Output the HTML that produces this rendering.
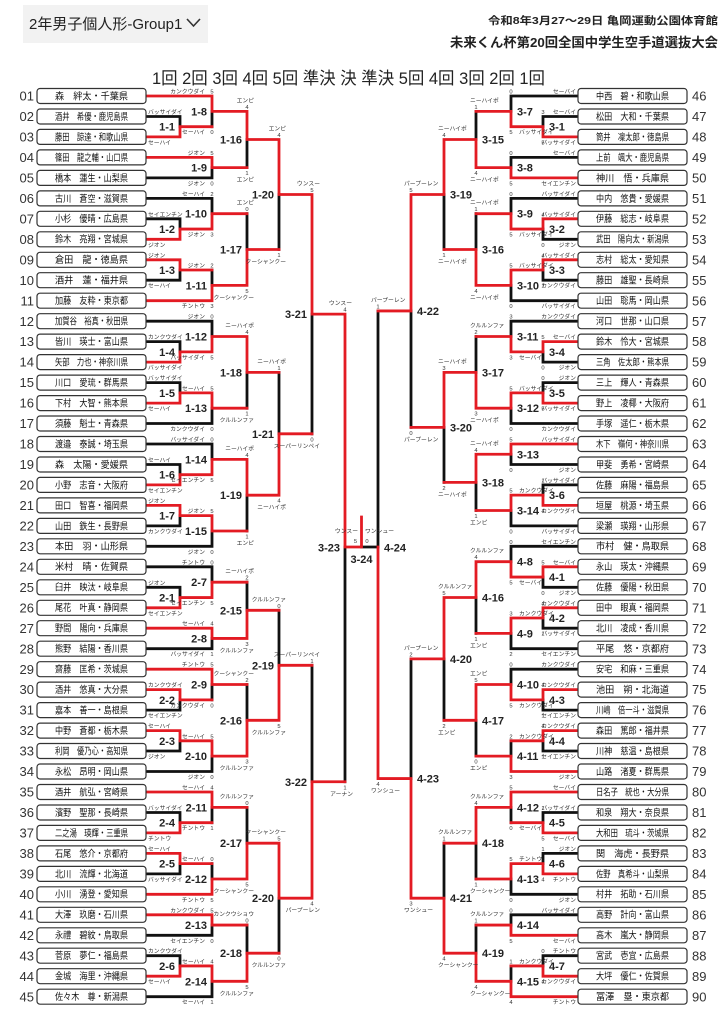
<!DOCTYPE html>
<html><head><meta charset="utf-8">
<style>
html,body{margin:0;padding:0;background:#fff;}
svg{display:block;font-family:"Liberation Sans","Noto Sans CJK JP",sans-serif;}
.k{stroke:#111;stroke-width:2.8;fill:none;stroke-linecap:square}
.r{stroke:#e31b23;stroke-width:2.8;fill:none;stroke-linecap:square}
.bx{fill:#fff;stroke:#333;stroke-width:1.2}
.nm{font-size:9.5px;fill:#111;text-anchor:middle}
.no{font-size:13px;fill:#333;text-anchor:end}
.nor{font-size:13px;fill:#333;text-anchor:start}
.mt{font-size:11px;font-weight:bold;fill:#222;text-anchor:end}
.mts{font-size:11px;font-weight:bold;fill:#222;text-anchor:start}
.mtm{font-size:11px;font-weight:bold;fill:#222;text-anchor:middle}
.ts{font-size:5.8px;fill:#333;text-anchor:start}
.te{font-size:5.8px;fill:#333;text-anchor:end}
.tm{font-size:5.8px;fill:#333;text-anchor:middle}
</style></head><body>
<svg width="724" height="1024" viewBox="0 0 724 1024" xmlns="http://www.w3.org/2000/svg">
<!-- header -->
<rect x="23" y="5" width="185" height="38" fill="#f2f2f2"/>
<text x="29" y="29" style="font-size:15px;fill:#222">2年男子個人形-Group1</text>
<polyline points="187,19 193.5,26 200,19" fill="none" stroke="#333" stroke-width="1.6"/>
<text x="718" y="24" textLength="230" lengthAdjust="spacingAndGlyphs" style="font-size:10.5px;font-weight:bold;fill:#222;text-anchor:end">令和8年3月27〜29日 亀岡運動公園体育館</text>
<text x="718" y="47" textLength="268" lengthAdjust="spacingAndGlyphs" style="font-size:13px;font-weight:bold;fill:#222;text-anchor:end">未来くん杯第20回全国中学生空手道選抜大会</text>
<text x="152" y="84" textLength="393" lengthAdjust="spacingAndGlyphs" style="font-size:17px;fill:#222">1回 2回 3回 4回 5回 準決 決 準決 5回 4回 3回 2回 1回</text>

<!-- black lines -->
<path class="k" d="M146 116.5H180M146 177.9H212M146 198.4H212M146 218.8H180M146 280.2H180M146 321.2H212M146 341.6H180M146 382.6H180M146 423.5H212M146 444H212M146 464.5H180M146 525.9H180M146 546.3H212M146 566.8H212M146 587.3H180M146 648.7H212M146 710.1H180M146 751H180M146 771.5H212M146 812.5H180M146 873.9H180M146 935.3H212M146 955.7H180M146 996.7H212
M180 116.5V126.7M180 218.8V229.05M180 270V280.2M180 341.6V351.85M180 382.6V392.85M180 464.5V474.7M180 515.65V525.9M180 587.3V597.55M180 699.85V710.1M180 740.8V751M180 812.5V822.7M180 863.65V873.9M180 955.7V965.95
M212 111.35V126.7M212 167.65V177.9M212 198.4V213.7M212 270V285.35M212 321.2V336.5M212 408.2V423.5M212 444V459.35M212 531V546.3M212 566.8V582.2M212 638.45V648.7M212 684.5V699.85M212 756.15V771.5M212 807.35V822.7M212 863.65V879M212 925.05V935.3M212 981.3V996.7
M247 139.5V167.65M247 213.7V249.5M247 372.35V408.2M247 495.2V531M247 582.2V610.3M247 684.5V720.3M247 807.35V843.2M247 925.05V953.2
M279 194.5V249.5M279 372.35V433.8M279 610.3V665.3M279 898.2V953.2
M312 314.15V433.8M312 665.3V781.75
M345 547V781.75M361.5 547H378
M578 96H511M578 116.5H543M578 157.4H511M578 198.4H511M578 239.3H543M578 280.2H543M578 300.7H511M578 321.2H511M578 362.1H543M578 382.6H543M578 423.5H511M578 464.5H511M578 484.9H543M578 525.9H511M578 546.3H511M578 587.3H543M578 628.2H543M578 648.7H511M578 669.2H511M578 710.1H543M578 751H543M578 812.5H543M578 853.4H543M578 894.3H511M578 914.8H511M578 955.7H543
M543 116.5V126.7M543 229.05V239.3M543 270V280.2M543 351.85V362.1M543 382.6V392.85M543 484.9V495.15M543 577.05V587.3M543 618V628.2M543 699.85V710.1M543 740.8V751M543 812.5V822.7M543 853.4V863.65M543 955.7V965.95
M511 96V111.35M511 157.4V167.65M511 198.4V213.7M511 285.35V300.7M511 321.2V336.5M511 408.2V423.5M511 454.25V464.5M511 510.5V525.9M511 546.3V561.7M511 633.35V648.7M511 669.2V684.5M511 740.8V756.15M511 807.35V822.7M511 879V894.3M511 914.8V925.05M511 965.95V981.3
M476 111.35V139.5M476 213.7V249.5M476 336.5V372.35M476 482.4V510.5M476 597.5V633.35M476 720.3V756.15M476 843.2V879M476 925.05V953.2
M444 194.5V249.5M444 427.4V482.4M444 658.9V720.3M444 843.2V898.2
M411 310.95V427.4M411 658.9V778.55
M378 310.95V547"/>

<!-- red lines -->
<path class="r" d="M146 96H212M146 136.9H180M146 157.4H212M146 239.3H180M146 259.8H180M146 300.7H212M146 362.1H180M146 403.1H180M146 484.9H180M146 505.4H180M146 607.8H180M146 628.2H212M146 669.2H212M146 689.6H180M146 730.6H180M146 792H212M146 832.9H180M146 853.4H180M146 894.3H212M146 914.8H212M146 976.2H180
M180 126.7V136.9M180 229.05V239.3M180 259.8V270M180 351.85V362.1M180 392.85V403.1M180 474.7V484.9M180 505.4V515.65M180 597.55V607.8M180 689.6V699.85M180 730.6V740.8M180 822.7V832.9M180 853.4V863.65M180 965.95V976.2
M180 126.7H212M180 229.05H212M180 270H212M180 351.85H212M180 392.85H212M180 474.7H212M180 515.65H212M180 597.55H212M180 699.85H212M180 740.8H212M180 822.7H212M180 863.65H212M180 965.95H212
M212 96V111.35M212 157.4V167.65M212 213.7V229.05M212 285.35V300.7M212 336.5V351.85M212 392.85V408.2M212 459.35V474.7M212 515.65V531M212 582.2V597.55M212 628.2V638.45M212 669.2V684.5M212 740.8V756.15M212 792V807.35M212 879V894.3M212 914.8V925.05M212 965.95V981.3
M212 111.35H247M212 167.65H247M212 213.7H247M212 285.35H247M212 336.5H247M212 408.2H247M212 459.35H247M212 531H247M212 582.2H247M212 638.45H247M212 684.5H247M212 756.15H247M212 807.35H247M212 879H247M212 925.05H247M212 981.3H247
M247 111.35V139.5M247 249.5V285.35M247 336.5V372.35M247 459.35V495.2M247 610.3V638.45M247 720.3V756.15M247 843.2V879M247 953.2V981.3
M247 139.5H279M247 249.5H279M247 372.35H279M247 495.2H279M247 610.3H279M247 720.3H279M247 843.2H279M247 953.2H279
M279 139.5V194.5M279 433.8V495.2M279 665.3V720.3M279 843.2V898.2
M279 194.5H312M279 433.8H312M279 665.3H312M279 898.2H312
M312 194.5V314.15M312 781.75V898.2M312 314.15H345M312 781.75H345
M345 314.15V547M345 547H361.5M361.5 517V547
M578 136.9H543M578 177.9H511M578 218.8H543M578 259.8H543M578 341.6H543M578 403.1H543M578 444H511M578 505.4H543M578 566.8H543M578 607.8H543M578 689.6H543M578 730.6H543M578 771.5H511M578 792H511M578 832.9H543M578 873.9H543M578 935.3H511M578 976.2H543M578 996.7H511
M543 126.7V136.9M543 218.8V229.05M543 259.8V270M543 341.6V351.85M543 392.85V403.1M543 495.15V505.4M543 566.8V577.05M543 607.8V618M543 689.6V699.85M543 730.6V740.8M543 822.7V832.9M543 863.65V873.9M543 965.95V976.2
M543 126.7H511M543 229.05H511M543 270H511M543 351.85H511M543 392.85H511M543 495.15H511M543 577.05H511M543 618H511M543 699.85H511M543 740.8H511M543 822.7H511M543 863.65H511M543 965.95H511
M511 111.35V126.7M511 167.65V177.9M511 213.7V229.05M511 270V285.35M511 336.5V351.85M511 392.85V408.2M511 444V454.25M511 495.15V510.5M511 561.7V577.05M511 618V633.35M511 684.5V699.85M511 756.15V771.5M511 792V807.35M511 863.65V879M511 925.05V935.3M511 981.3V996.7
M511 111.35H476M511 167.65H476M511 213.7H476M511 285.35H476M511 336.5H476M511 408.2H476M511 454.25H476M511 510.5H476M511 561.7H476M511 633.35H476M511 684.5H476M511 756.15H476M511 807.35H476M511 879H476M511 925.05H476M511 981.3H476
M476 139.5V167.65M476 249.5V285.35M476 372.35V408.2M476 454.25V482.4M476 561.7V597.5M476 684.5V720.3M476 807.35V843.2M476 953.2V981.3
M476 139.5H444M476 249.5H444M476 372.35H444M476 482.4H444M476 597.5H444M476 720.3H444M476 843.2H444M476 953.2H444
M444 139.5V194.5M444 372.35V427.4M444 597.5V658.9M444 898.2V953.2
M444 194.5H411M444 427.4H411M444 658.9H411M444 898.2H411
M411 194.5V310.95M411 778.55V898.2M411 310.95H378M411 778.55H378
M378 547V778.55"/>

<!-- entry rows -->
<g transform="translate(0,96)"><rect class="bx" x="37" y="-7.5" width="109" height="15" rx="3"/><text class="no" x="34" y="4.6">01</text><text class="nm" x="91.5" y="3.4" textLength="73" lengthAdjust="spacingAndGlyphs">森　絆太・千葉県</text><rect class="bx" x="578" y="-7.5" width="109" height="15" rx="3"/><text class="nor" x="692" y="4.6">46</text><text class="nm" x="632.5" y="3.4" textLength="73" lengthAdjust="spacingAndGlyphs">中西　碧・和歌山県</text></g>
<g transform="translate(0,116.5)"><rect class="bx" x="37" y="-7.5" width="109" height="15" rx="3"/><text class="no" x="34" y="4.6">02</text><text class="nm" x="91.5" y="3.4" textLength="73" lengthAdjust="spacingAndGlyphs">酒井　希優・鹿児島県</text><rect class="bx" x="578" y="-7.5" width="109" height="15" rx="3"/><text class="nor" x="692" y="4.6">47</text><text class="nm" x="632.5" y="3.4" textLength="73" lengthAdjust="spacingAndGlyphs">松田　大和・千葉県</text></g>
<g transform="translate(0,136.9)"><rect class="bx" x="37" y="-7.5" width="109" height="15" rx="3"/><text class="no" x="34" y="4.6">03</text><text class="nm" x="91.5" y="3.4" textLength="73" lengthAdjust="spacingAndGlyphs">藤田　諒達・和歌山県</text><rect class="bx" x="578" y="-7.5" width="109" height="15" rx="3"/><text class="nor" x="692" y="4.6">48</text><text class="nm" x="632.5" y="3.4" textLength="73" lengthAdjust="spacingAndGlyphs">筒井　凜太郎・徳島県</text></g>
<g transform="translate(0,157.4)"><rect class="bx" x="37" y="-7.5" width="109" height="15" rx="3"/><text class="no" x="34" y="4.6">04</text><text class="nm" x="91.5" y="3.4" textLength="73" lengthAdjust="spacingAndGlyphs">篠田　龍之輔・山口県</text><rect class="bx" x="578" y="-7.5" width="109" height="15" rx="3"/><text class="nor" x="692" y="4.6">49</text><text class="nm" x="632.5" y="3.4" textLength="73" lengthAdjust="spacingAndGlyphs">上前　颯大・鹿児島県</text></g>
<g transform="translate(0,177.9)"><rect class="bx" x="37" y="-7.5" width="109" height="15" rx="3"/><text class="no" x="34" y="4.6">05</text><text class="nm" x="91.5" y="3.4" textLength="73" lengthAdjust="spacingAndGlyphs">橋本　蓮生・山梨県</text><rect class="bx" x="578" y="-7.5" width="109" height="15" rx="3"/><text class="nor" x="692" y="4.6">50</text><text class="nm" x="632.5" y="3.4" textLength="73" lengthAdjust="spacingAndGlyphs">神川　悟・兵庫県</text></g>
<g transform="translate(0,198.4)"><rect class="bx" x="37" y="-7.5" width="109" height="15" rx="3"/><text class="no" x="34" y="4.6">06</text><text class="nm" x="91.5" y="3.4" textLength="73" lengthAdjust="spacingAndGlyphs">古川　蒼空・滋賀県</text><rect class="bx" x="578" y="-7.5" width="109" height="15" rx="3"/><text class="nor" x="692" y="4.6">51</text><text class="nm" x="632.5" y="3.4" textLength="73" lengthAdjust="spacingAndGlyphs">中内　悠貴・愛媛県</text></g>
<g transform="translate(0,218.8)"><rect class="bx" x="37" y="-7.5" width="109" height="15" rx="3"/><text class="no" x="34" y="4.6">07</text><text class="nm" x="91.5" y="3.4" textLength="73" lengthAdjust="spacingAndGlyphs">小杉　優晴・広島県</text><rect class="bx" x="578" y="-7.5" width="109" height="15" rx="3"/><text class="nor" x="692" y="4.6">52</text><text class="nm" x="632.5" y="3.4" textLength="73" lengthAdjust="spacingAndGlyphs">伊藤　総志・岐阜県</text></g>
<g transform="translate(0,239.3)"><rect class="bx" x="37" y="-7.5" width="109" height="15" rx="3"/><text class="no" x="34" y="4.6">08</text><text class="nm" x="91.5" y="3.4" textLength="73" lengthAdjust="spacingAndGlyphs">鈴木　亮翔・宮城県</text><rect class="bx" x="578" y="-7.5" width="109" height="15" rx="3"/><text class="nor" x="692" y="4.6">53</text><text class="nm" x="632.5" y="3.4" textLength="73" lengthAdjust="spacingAndGlyphs">武田　陽向太・新潟県</text></g>
<g transform="translate(0,259.8)"><rect class="bx" x="37" y="-7.5" width="109" height="15" rx="3"/><text class="no" x="34" y="4.6">09</text><text class="nm" x="91.5" y="3.4" textLength="73" lengthAdjust="spacingAndGlyphs">倉田　龍・徳島県</text><rect class="bx" x="578" y="-7.5" width="109" height="15" rx="3"/><text class="nor" x="692" y="4.6">54</text><text class="nm" x="632.5" y="3.4" textLength="73" lengthAdjust="spacingAndGlyphs">志村　総太・愛知県</text></g>
<g transform="translate(0,280.2)"><rect class="bx" x="37" y="-7.5" width="109" height="15" rx="3"/><text class="no" x="34" y="4.6">10</text><text class="nm" x="91.5" y="3.4" textLength="73" lengthAdjust="spacingAndGlyphs">酒井　蓮・福井県</text><rect class="bx" x="578" y="-7.5" width="109" height="15" rx="3"/><text class="nor" x="692" y="4.6">55</text><text class="nm" x="632.5" y="3.4" textLength="73" lengthAdjust="spacingAndGlyphs">藤田　雄聖・長崎県</text></g>
<g transform="translate(0,300.7)"><rect class="bx" x="37" y="-7.5" width="109" height="15" rx="3"/><text class="no" x="34" y="4.6">11</text><text class="nm" x="91.5" y="3.4" textLength="73" lengthAdjust="spacingAndGlyphs">加藤　友粋・東京都</text><rect class="bx" x="578" y="-7.5" width="109" height="15" rx="3"/><text class="nor" x="692" y="4.6">56</text><text class="nm" x="632.5" y="3.4" textLength="73" lengthAdjust="spacingAndGlyphs">山田　聡馬・岡山県</text></g>
<g transform="translate(0,321.2)"><rect class="bx" x="37" y="-7.5" width="109" height="15" rx="3"/><text class="no" x="34" y="4.6">12</text><text class="nm" x="91.5" y="3.4" textLength="73" lengthAdjust="spacingAndGlyphs">加賀谷　裕真・秋田県</text><rect class="bx" x="578" y="-7.5" width="109" height="15" rx="3"/><text class="nor" x="692" y="4.6">57</text><text class="nm" x="632.5" y="3.4" textLength="73" lengthAdjust="spacingAndGlyphs">河口　世那・山口県</text></g>
<g transform="translate(0,341.6)"><rect class="bx" x="37" y="-7.5" width="109" height="15" rx="3"/><text class="no" x="34" y="4.6">13</text><text class="nm" x="91.5" y="3.4" textLength="73" lengthAdjust="spacingAndGlyphs">皆川　瑛士・富山県</text><rect class="bx" x="578" y="-7.5" width="109" height="15" rx="3"/><text class="nor" x="692" y="4.6">58</text><text class="nm" x="632.5" y="3.4" textLength="73" lengthAdjust="spacingAndGlyphs">鈴木　怜大・宮城県</text></g>
<g transform="translate(0,362.1)"><rect class="bx" x="37" y="-7.5" width="109" height="15" rx="3"/><text class="no" x="34" y="4.6">14</text><text class="nm" x="91.5" y="3.4" textLength="73" lengthAdjust="spacingAndGlyphs">矢部　力也・神奈川県</text><rect class="bx" x="578" y="-7.5" width="109" height="15" rx="3"/><text class="nor" x="692" y="4.6">59</text><text class="nm" x="632.5" y="3.4" textLength="73" lengthAdjust="spacingAndGlyphs">三角　佐太郎・熊本県</text></g>
<g transform="translate(0,382.6)"><rect class="bx" x="37" y="-7.5" width="109" height="15" rx="3"/><text class="no" x="34" y="4.6">15</text><text class="nm" x="91.5" y="3.4" textLength="73" lengthAdjust="spacingAndGlyphs">川口　愛琉・群馬県</text><rect class="bx" x="578" y="-7.5" width="109" height="15" rx="3"/><text class="nor" x="692" y="4.6">60</text><text class="nm" x="632.5" y="3.4" textLength="73" lengthAdjust="spacingAndGlyphs">三上　輝人・青森県</text></g>
<g transform="translate(0,403.1)"><rect class="bx" x="37" y="-7.5" width="109" height="15" rx="3"/><text class="no" x="34" y="4.6">16</text><text class="nm" x="91.5" y="3.4" textLength="73" lengthAdjust="spacingAndGlyphs">下村　大智・熊本県</text><rect class="bx" x="578" y="-7.5" width="109" height="15" rx="3"/><text class="nor" x="692" y="4.6">61</text><text class="nm" x="632.5" y="3.4" textLength="73" lengthAdjust="spacingAndGlyphs">野上　凌椰・大阪府</text></g>
<g transform="translate(0,423.5)"><rect class="bx" x="37" y="-7.5" width="109" height="15" rx="3"/><text class="no" x="34" y="4.6">17</text><text class="nm" x="91.5" y="3.4" textLength="73" lengthAdjust="spacingAndGlyphs">須藤　魁士・青森県</text><rect class="bx" x="578" y="-7.5" width="109" height="15" rx="3"/><text class="nor" x="692" y="4.6">62</text><text class="nm" x="632.5" y="3.4" textLength="73" lengthAdjust="spacingAndGlyphs">手塚　遥仁・栃木県</text></g>
<g transform="translate(0,444)"><rect class="bx" x="37" y="-7.5" width="109" height="15" rx="3"/><text class="no" x="34" y="4.6">18</text><text class="nm" x="91.5" y="3.4" textLength="73" lengthAdjust="spacingAndGlyphs">渡邉　泰誠・埼玉県</text><rect class="bx" x="578" y="-7.5" width="109" height="15" rx="3"/><text class="nor" x="692" y="4.6">63</text><text class="nm" x="632.5" y="3.4" textLength="73" lengthAdjust="spacingAndGlyphs">木下　嶺何・神奈川県</text></g>
<g transform="translate(0,464.5)"><rect class="bx" x="37" y="-7.5" width="109" height="15" rx="3"/><text class="no" x="34" y="4.6">19</text><text class="nm" x="91.5" y="3.4" textLength="73" lengthAdjust="spacingAndGlyphs">森　太陽・愛媛県</text><rect class="bx" x="578" y="-7.5" width="109" height="15" rx="3"/><text class="nor" x="692" y="4.6">64</text><text class="nm" x="632.5" y="3.4" textLength="73" lengthAdjust="spacingAndGlyphs">甲斐　勇希・宮崎県</text></g>
<g transform="translate(0,484.9)"><rect class="bx" x="37" y="-7.5" width="109" height="15" rx="3"/><text class="no" x="34" y="4.6">20</text><text class="nm" x="91.5" y="3.4" textLength="73" lengthAdjust="spacingAndGlyphs">小野　志音・大阪府</text><rect class="bx" x="578" y="-7.5" width="109" height="15" rx="3"/><text class="nor" x="692" y="4.6">65</text><text class="nm" x="632.5" y="3.4" textLength="73" lengthAdjust="spacingAndGlyphs">佐藤　麻陽・福島県</text></g>
<g transform="translate(0,505.4)"><rect class="bx" x="37" y="-7.5" width="109" height="15" rx="3"/><text class="no" x="34" y="4.6">21</text><text class="nm" x="91.5" y="3.4" textLength="73" lengthAdjust="spacingAndGlyphs">田口　智喜・福岡県</text><rect class="bx" x="578" y="-7.5" width="109" height="15" rx="3"/><text class="nor" x="692" y="4.6">66</text><text class="nm" x="632.5" y="3.4" textLength="73" lengthAdjust="spacingAndGlyphs">垣屋　桃源・埼玉県</text></g>
<g transform="translate(0,525.9)"><rect class="bx" x="37" y="-7.5" width="109" height="15" rx="3"/><text class="no" x="34" y="4.6">22</text><text class="nm" x="91.5" y="3.4" textLength="73" lengthAdjust="spacingAndGlyphs">山田　鉄生・長野県</text><rect class="bx" x="578" y="-7.5" width="109" height="15" rx="3"/><text class="nor" x="692" y="4.6">67</text><text class="nm" x="632.5" y="3.4" textLength="73" lengthAdjust="spacingAndGlyphs">梁瀬　瑛翔・山形県</text></g>
<g transform="translate(0,546.3)"><rect class="bx" x="37" y="-7.5" width="109" height="15" rx="3"/><text class="no" x="34" y="4.6">23</text><text class="nm" x="91.5" y="3.4" textLength="73" lengthAdjust="spacingAndGlyphs">本田　羽・山形県</text><rect class="bx" x="578" y="-7.5" width="109" height="15" rx="3"/><text class="nor" x="692" y="4.6">68</text><text class="nm" x="632.5" y="3.4" textLength="73" lengthAdjust="spacingAndGlyphs">市村　健・鳥取県</text></g>
<g transform="translate(0,566.8)"><rect class="bx" x="37" y="-7.5" width="109" height="15" rx="3"/><text class="no" x="34" y="4.6">24</text><text class="nm" x="91.5" y="3.4" textLength="73" lengthAdjust="spacingAndGlyphs">米村　晴・佐賀県</text><rect class="bx" x="578" y="-7.5" width="109" height="15" rx="3"/><text class="nor" x="692" y="4.6">69</text><text class="nm" x="632.5" y="3.4" textLength="73" lengthAdjust="spacingAndGlyphs">永山　瑛太・沖縄県</text></g>
<g transform="translate(0,587.3)"><rect class="bx" x="37" y="-7.5" width="109" height="15" rx="3"/><text class="no" x="34" y="4.6">25</text><text class="nm" x="91.5" y="3.4" textLength="73" lengthAdjust="spacingAndGlyphs">臼井　映汰・岐阜県</text><rect class="bx" x="578" y="-7.5" width="109" height="15" rx="3"/><text class="nor" x="692" y="4.6">70</text><text class="nm" x="632.5" y="3.4" textLength="73" lengthAdjust="spacingAndGlyphs">佐藤　優陽・秋田県</text></g>
<g transform="translate(0,607.8)"><rect class="bx" x="37" y="-7.5" width="109" height="15" rx="3"/><text class="no" x="34" y="4.6">26</text><text class="nm" x="91.5" y="3.4" textLength="73" lengthAdjust="spacingAndGlyphs">尾花　叶真・静岡県</text><rect class="bx" x="578" y="-7.5" width="109" height="15" rx="3"/><text class="nor" x="692" y="4.6">71</text><text class="nm" x="632.5" y="3.4" textLength="73" lengthAdjust="spacingAndGlyphs">田中　眼真・福岡県</text></g>
<g transform="translate(0,628.2)"><rect class="bx" x="37" y="-7.5" width="109" height="15" rx="3"/><text class="no" x="34" y="4.6">27</text><text class="nm" x="91.5" y="3.4" textLength="73" lengthAdjust="spacingAndGlyphs">野間　陽向・兵庫県</text><rect class="bx" x="578" y="-7.5" width="109" height="15" rx="3"/><text class="nor" x="692" y="4.6">72</text><text class="nm" x="632.5" y="3.4" textLength="73" lengthAdjust="spacingAndGlyphs">北川　凌成・香川県</text></g>
<g transform="translate(0,648.7)"><rect class="bx" x="37" y="-7.5" width="109" height="15" rx="3"/><text class="no" x="34" y="4.6">28</text><text class="nm" x="91.5" y="3.4" textLength="73" lengthAdjust="spacingAndGlyphs">熊野　結陽・香川県</text><rect class="bx" x="578" y="-7.5" width="109" height="15" rx="3"/><text class="nor" x="692" y="4.6">73</text><text class="nm" x="632.5" y="3.4" textLength="73" lengthAdjust="spacingAndGlyphs">平尾　悠・京都府</text></g>
<g transform="translate(0,669.2)"><rect class="bx" x="37" y="-7.5" width="109" height="15" rx="3"/><text class="no" x="34" y="4.6">29</text><text class="nm" x="91.5" y="3.4" textLength="73" lengthAdjust="spacingAndGlyphs">齋藤　匡希・茨城県</text><rect class="bx" x="578" y="-7.5" width="109" height="15" rx="3"/><text class="nor" x="692" y="4.6">74</text><text class="nm" x="632.5" y="3.4" textLength="73" lengthAdjust="spacingAndGlyphs">安宅　和麻・三重県</text></g>
<g transform="translate(0,689.6)"><rect class="bx" x="37" y="-7.5" width="109" height="15" rx="3"/><text class="no" x="34" y="4.6">30</text><text class="nm" x="91.5" y="3.4" textLength="73" lengthAdjust="spacingAndGlyphs">酒井　悠真・大分県</text><rect class="bx" x="578" y="-7.5" width="109" height="15" rx="3"/><text class="nor" x="692" y="4.6">75</text><text class="nm" x="632.5" y="3.4" textLength="73" lengthAdjust="spacingAndGlyphs">池田　朔・北海道</text></g>
<g transform="translate(0,710.1)"><rect class="bx" x="37" y="-7.5" width="109" height="15" rx="3"/><text class="no" x="34" y="4.6">31</text><text class="nm" x="91.5" y="3.4" textLength="73" lengthAdjust="spacingAndGlyphs">嘉本　善一・島根県</text><rect class="bx" x="578" y="-7.5" width="109" height="15" rx="3"/><text class="nor" x="692" y="4.6">76</text><text class="nm" x="632.5" y="3.4" textLength="73" lengthAdjust="spacingAndGlyphs">川嶋　倍一斗・滋賀県</text></g>
<g transform="translate(0,730.6)"><rect class="bx" x="37" y="-7.5" width="109" height="15" rx="3"/><text class="no" x="34" y="4.6">32</text><text class="nm" x="91.5" y="3.4" textLength="73" lengthAdjust="spacingAndGlyphs">中野　蒼都・栃木県</text><rect class="bx" x="578" y="-7.5" width="109" height="15" rx="3"/><text class="nor" x="692" y="4.6">77</text><text class="nm" x="632.5" y="3.4" textLength="73" lengthAdjust="spacingAndGlyphs">森田　篤郎・福井県</text></g>
<g transform="translate(0,751)"><rect class="bx" x="37" y="-7.5" width="109" height="15" rx="3"/><text class="no" x="34" y="4.6">33</text><text class="nm" x="91.5" y="3.4" textLength="73" lengthAdjust="spacingAndGlyphs">利岡　優乃心・高知県</text><rect class="bx" x="578" y="-7.5" width="109" height="15" rx="3"/><text class="nor" x="692" y="4.6">78</text><text class="nm" x="632.5" y="3.4" textLength="73" lengthAdjust="spacingAndGlyphs">川神　慈温・島根県</text></g>
<g transform="translate(0,771.5)"><rect class="bx" x="37" y="-7.5" width="109" height="15" rx="3"/><text class="no" x="34" y="4.6">34</text><text class="nm" x="91.5" y="3.4" textLength="73" lengthAdjust="spacingAndGlyphs">永松　昂明・岡山県</text><rect class="bx" x="578" y="-7.5" width="109" height="15" rx="3"/><text class="nor" x="692" y="4.6">79</text><text class="nm" x="632.5" y="3.4" textLength="73" lengthAdjust="spacingAndGlyphs">山路　渚夏・群馬県</text></g>
<g transform="translate(0,792)"><rect class="bx" x="37" y="-7.5" width="109" height="15" rx="3"/><text class="no" x="34" y="4.6">35</text><text class="nm" x="91.5" y="3.4" textLength="73" lengthAdjust="spacingAndGlyphs">酒井　航弘・宮崎県</text><rect class="bx" x="578" y="-7.5" width="109" height="15" rx="3"/><text class="nor" x="692" y="4.6">80</text><text class="nm" x="632.5" y="3.4" textLength="73" lengthAdjust="spacingAndGlyphs">日名子　統也・大分県</text></g>
<g transform="translate(0,812.5)"><rect class="bx" x="37" y="-7.5" width="109" height="15" rx="3"/><text class="no" x="34" y="4.6">36</text><text class="nm" x="91.5" y="3.4" textLength="73" lengthAdjust="spacingAndGlyphs">濱野　聖那・長崎県</text><rect class="bx" x="578" y="-7.5" width="109" height="15" rx="3"/><text class="nor" x="692" y="4.6">81</text><text class="nm" x="632.5" y="3.4" textLength="73" lengthAdjust="spacingAndGlyphs">和泉　翔大・奈良県</text></g>
<g transform="translate(0,832.9)"><rect class="bx" x="37" y="-7.5" width="109" height="15" rx="3"/><text class="no" x="34" y="4.6">37</text><text class="nm" x="91.5" y="3.4" textLength="73" lengthAdjust="spacingAndGlyphs">二之湯　瑛輝・三重県</text><rect class="bx" x="578" y="-7.5" width="109" height="15" rx="3"/><text class="nor" x="692" y="4.6">82</text><text class="nm" x="632.5" y="3.4" textLength="73" lengthAdjust="spacingAndGlyphs">大和田　琉斗・茨城県</text></g>
<g transform="translate(0,853.4)"><rect class="bx" x="37" y="-7.5" width="109" height="15" rx="3"/><text class="no" x="34" y="4.6">38</text><text class="nm" x="91.5" y="3.4" textLength="73" lengthAdjust="spacingAndGlyphs">石尾　悠介・京都府</text><rect class="bx" x="578" y="-7.5" width="109" height="15" rx="3"/><text class="nor" x="692" y="4.6">83</text><text class="nm" x="632.5" y="3.4" textLength="73" lengthAdjust="spacingAndGlyphs">関　海虎・長野県</text></g>
<g transform="translate(0,873.9)"><rect class="bx" x="37" y="-7.5" width="109" height="15" rx="3"/><text class="no" x="34" y="4.6">39</text><text class="nm" x="91.5" y="3.4" textLength="73" lengthAdjust="spacingAndGlyphs">北川　流輝・北海道</text><rect class="bx" x="578" y="-7.5" width="109" height="15" rx="3"/><text class="nor" x="692" y="4.6">84</text><text class="nm" x="632.5" y="3.4" textLength="73" lengthAdjust="spacingAndGlyphs">佐野　真希斗・山梨県</text></g>
<g transform="translate(0,894.3)"><rect class="bx" x="37" y="-7.5" width="109" height="15" rx="3"/><text class="no" x="34" y="4.6">40</text><text class="nm" x="91.5" y="3.4" textLength="73" lengthAdjust="spacingAndGlyphs">小川　湧登・愛知県</text><rect class="bx" x="578" y="-7.5" width="109" height="15" rx="3"/><text class="nor" x="692" y="4.6">85</text><text class="nm" x="632.5" y="3.4" textLength="73" lengthAdjust="spacingAndGlyphs">村井　拓助・石川県</text></g>
<g transform="translate(0,914.8)"><rect class="bx" x="37" y="-7.5" width="109" height="15" rx="3"/><text class="no" x="34" y="4.6">41</text><text class="nm" x="91.5" y="3.4" textLength="73" lengthAdjust="spacingAndGlyphs">大澤　玖磨・石川県</text><rect class="bx" x="578" y="-7.5" width="109" height="15" rx="3"/><text class="nor" x="692" y="4.6">86</text><text class="nm" x="632.5" y="3.4" textLength="73" lengthAdjust="spacingAndGlyphs">高野　計向・富山県</text></g>
<g transform="translate(0,935.3)"><rect class="bx" x="37" y="-7.5" width="109" height="15" rx="3"/><text class="no" x="34" y="4.6">42</text><text class="nm" x="91.5" y="3.4" textLength="73" lengthAdjust="spacingAndGlyphs">永禮　碧紋・鳥取県</text><rect class="bx" x="578" y="-7.5" width="109" height="15" rx="3"/><text class="nor" x="692" y="4.6">87</text><text class="nm" x="632.5" y="3.4" textLength="73" lengthAdjust="spacingAndGlyphs">高木　嵐大・静岡県</text></g>
<g transform="translate(0,955.7)"><rect class="bx" x="37" y="-7.5" width="109" height="15" rx="3"/><text class="no" x="34" y="4.6">43</text><text class="nm" x="91.5" y="3.4" textLength="73" lengthAdjust="spacingAndGlyphs">菅原　夢仁・福島県</text><rect class="bx" x="578" y="-7.5" width="109" height="15" rx="3"/><text class="nor" x="692" y="4.6">88</text><text class="nm" x="632.5" y="3.4" textLength="73" lengthAdjust="spacingAndGlyphs">宮武　壱宜・広島県</text></g>
<g transform="translate(0,976.2)"><rect class="bx" x="37" y="-7.5" width="109" height="15" rx="3"/><text class="no" x="34" y="4.6">44</text><text class="nm" x="91.5" y="3.4" textLength="73" lengthAdjust="spacingAndGlyphs">金城　海里・沖縄県</text><rect class="bx" x="578" y="-7.5" width="109" height="15" rx="3"/><text class="nor" x="692" y="4.6">89</text><text class="nm" x="632.5" y="3.4" textLength="73" lengthAdjust="spacingAndGlyphs">大坪　優仁・佐賀県</text></g>
<g transform="translate(0,996.7)"><rect class="bx" x="37" y="-7.5" width="109" height="15" rx="3"/><text class="no" x="34" y="4.6">45</text><text class="nm" x="91.5" y="3.4" textLength="73" lengthAdjust="spacingAndGlyphs">佐々木　尊・新潟県</text><rect class="bx" x="578" y="-7.5" width="109" height="15" rx="3"/><text class="nor" x="692" y="4.6">90</text><text class="nm" x="632.5" y="3.4" textLength="73" lengthAdjust="spacingAndGlyphs">冨澤　塁・東京都</text></g>

<!-- match labels left -->
<text class="mt" x="175" y="130.7">1-1</text><text class="mt" x="175" y="233">1-2</text><text class="mt" x="175" y="274">1-3</text><text class="mt" x="175" y="355.9">1-4</text><text class="mt" x="175" y="396.9">1-5</text><text class="mt" x="175" y="478.7">1-6</text><text class="mt" x="175" y="519.7">1-7</text>
<text class="mt" x="175" y="601.6">2-1</text><text class="mt" x="175" y="703.9">2-2</text><text class="mt" x="175" y="744.8">2-3</text><text class="mt" x="175" y="826.7">2-4</text><text class="mt" x="175" y="867.7">2-5</text><text class="mt" x="175" y="970">2-6</text>
<text class="mt" x="207" y="115.4">1-8</text><text class="mt" x="207" y="171.7">1-9</text><text class="mt" x="207" y="217.7">1-10</text><text class="mt" x="207" y="289.4">1-11</text><text class="mt" x="207" y="340.5">1-12</text><text class="mt" x="207" y="412.2">1-13</text><text class="mt" x="207" y="463.4">1-14</text><text class="mt" x="207" y="535">1-15</text>
<text class="mt" x="207" y="586.2">2-7</text><text class="mt" x="207" y="642.5">2-8</text><text class="mt" x="207" y="688.5">2-9</text><text class="mt" x="207" y="760.2">2-10</text><text class="mt" x="207" y="811.4">2-11</text><text class="mt" x="207" y="883">2-12</text><text class="mt" x="207" y="929">2-13</text><text class="mt" x="207" y="985.3">2-14</text>
<text class="mt" x="242" y="143.5">1-16</text><text class="mt" x="242" y="253.5">1-17</text><text class="mt" x="242" y="376.4">1-18</text><text class="mt" x="242" y="499.2">1-19</text><text class="mt" x="242" y="614.3">2-15</text><text class="mt" x="242" y="724.3">2-16</text><text class="mt" x="242" y="847.2">2-17</text><text class="mt" x="242" y="957.2">2-18</text>
<text class="mt" x="274" y="198.5">1-20</text><text class="mt" x="274" y="437.8">1-21</text><text class="mt" x="274" y="669.3">2-19</text><text class="mt" x="274" y="902.2">2-20</text>
<text class="mt" x="307" y="318.2">3-21</text><text class="mt" x="307" y="785.8">3-22</text>
<text class="mt" x="340" y="551.5">3-23</text><text class="mtm" x="361.5" y="563">3-24</text><text class="mts" x="384" y="551.5">4-24</text>
<!-- match labels right -->
<text class="mts" x="549" y="130.7">3-1</text><text class="mts" x="549" y="233">3-2</text><text class="mts" x="549" y="274">3-3</text><text class="mts" x="549" y="355.9">3-4</text><text class="mts" x="549" y="396.9">3-5</text><text class="mts" x="549" y="499.2">3-6</text>
<text class="mts" x="549" y="581">4-1</text><text class="mts" x="549" y="622">4-2</text><text class="mts" x="549" y="703.9">4-3</text><text class="mts" x="549" y="744.8">4-4</text><text class="mts" x="549" y="826.7">4-5</text><text class="mts" x="549" y="867.7">4-6</text><text class="mts" x="549" y="970">4-7</text>
<text class="mts" x="517" y="115.4">3-7</text><text class="mts" x="517" y="171.7">3-8</text><text class="mts" x="517" y="217.7">3-9</text><text class="mts" x="517" y="289.4">3-10</text><text class="mts" x="517" y="340.5">3-11</text><text class="mts" x="517" y="412.2">3-12</text><text class="mts" x="517" y="458.3">3-13</text><text class="mts" x="517" y="514.5">3-14</text>
<text class="mts" x="517" y="565.7">4-8</text><text class="mts" x="517" y="637.4">4-9</text><text class="mts" x="517" y="688.5">4-10</text><text class="mts" x="517" y="760.2">4-11</text><text class="mts" x="517" y="811.4">4-12</text><text class="mts" x="517" y="883">4-13</text><text class="mts" x="517" y="929">4-14</text><text class="mts" x="517" y="985.3">4-15</text>
<text class="mts" x="482" y="143.5">3-15</text><text class="mts" x="482" y="253.5">3-16</text><text class="mts" x="482" y="376.4">3-17</text><text class="mts" x="482" y="486.4">3-18</text><text class="mts" x="482" y="601.5">4-16</text><text class="mts" x="482" y="724.3">4-17</text><text class="mts" x="482" y="847.2">4-18</text><text class="mts" x="482" y="957.2">4-19</text>
<text class="mts" x="450" y="198.5">3-19</text><text class="mts" x="450" y="431.4">3-20</text><text class="mts" x="450" y="662.9">4-20</text><text class="mts" x="450" y="902.2">4-21</text>
<text class="mts" x="417" y="315">4-22</text><text class="mts" x="417" y="782.6">4-23</text>

<!-- technique labels left R1 -->
<text class="ts" x="148" y="114">バッサイダイ</text><text class="ts" x="148" y="144.4">セーハイ</text>
<text class="ts" x="148" y="216.3">セイエンチン</text><text class="ts" x="148" y="246.8">ジオン</text>
<text class="ts" x="148" y="257.3">ジオン</text><text class="ts" x="148" y="287.7">セーハイ</text>
<text class="ts" x="148" y="339.1">カンクウダイ</text><text class="ts" x="148" y="369.6">バッサイダイ</text>
<text class="ts" x="148" y="380.1">バッサイダイ</text><text class="ts" x="148" y="410.6">セーハイ</text>
<text class="ts" x="148" y="462">セーハイ</text><text class="ts" x="148" y="492.4">セイエンチン</text>
<text class="ts" x="148" y="502.9">ジオン</text><text class="ts" x="148" y="533.4">カンクウダイ</text>
<text class="ts" x="148" y="584.8">ジオン</text><text class="ts" x="148" y="615.3">セイエンチン</text>
<text class="ts" x="148" y="687.1">カンクウダイ</text><text class="ts" x="148" y="717.6">セイエンチン</text>
<text class="ts" x="148" y="728.1">セーハイ</text><text class="ts" x="148" y="758.5">ジオン</text>
<text class="ts" x="148" y="810">バッサイダイ</text><text class="ts" x="148" y="840.4">チントウ</text>
<text class="ts" x="148" y="850.9">セーハイ</text><text class="ts" x="148" y="881.4">バッサイダイ</text>
<text class="ts" x="148" y="953.2">カンクウダイ</text><text class="ts" x="148" y="983.7">セーハイ</text>
<!-- left R2 -->
<text class="te" x="205" y="93.5">カンクウダイ</text><text class="tm" x="212" y="93.5">5</text><text class="te" x="205" y="134.2">セーハイ</text><text class="tm" x="212" y="134.2">0</text>
<text class="te" x="205" y="154.9">ジオン</text><text class="tm" x="212" y="154.9">5</text><text class="te" x="205" y="185.4">ジオン</text><text class="tm" x="212" y="185.4">0</text>
<text class="te" x="205" y="195.9">セーハイ</text><text class="tm" x="212" y="195.9">2</text><text class="te" x="205" y="236.6">ジオン</text><text class="tm" x="212" y="236.6">3</text>
<text class="te" x="205" y="267.5">ジオン</text><text class="tm" x="212" y="267.5">2</text><text class="te" x="205" y="308.2">チントウ</text><text class="tm" x="212" y="308.2">3</text>
<text class="te" x="205" y="318.7">ジオン</text><text class="tm" x="212" y="318.7">0</text><text class="te" x="205" y="359.4">バッサイダイ</text><text class="tm" x="212" y="359.4">5</text>
<text class="te" x="205" y="390.4">セーハイ</text><text class="tm" x="212" y="390.4">5</text><text class="te" x="205" y="431">カンクウダイ</text><text class="tm" x="212" y="431">0</text>
<text class="te" x="205" y="441.5">バッサイダイ</text><text class="tm" x="212" y="441.5">0</text><text class="te" x="205" y="482.2">セイエンチン</text><text class="tm" x="212" y="482.2">5</text>
<text class="te" x="205" y="513.2">ジオン</text><text class="tm" x="212" y="513.2">5</text><text class="te" x="205" y="553.8">ジオン</text><text class="tm" x="212" y="553.8">0</text>
<text class="te" x="205" y="564.3">チントウ</text><text class="tm" x="212" y="564.3">0</text><text class="te" x="205" y="605">セイエンチン</text><text class="tm" x="212" y="605">5</text>
<text class="te" x="205" y="625.7">セーハイ</text><text class="tm" x="212" y="625.7">4</text><text class="te" x="205" y="656.2">バッサイダイ</text><text class="tm" x="212" y="656.2">1</text>
<text class="te" x="205" y="666.7">チントウ</text><text class="tm" x="212" y="666.7">5</text><text class="te" x="205" y="707.4">カンクウダイ</text><text class="tm" x="212" y="707.4">0</text>
<text class="te" x="205" y="738.3">セーハイ</text><text class="tm" x="212" y="738.3">5</text><text class="te" x="205" y="779">ジオン</text><text class="tm" x="212" y="779">0</text>
<text class="te" x="205" y="789.5">セーハイ</text><text class="tm" x="212" y="789.5">4</text><text class="te" x="205" y="830.2">チントウ</text><text class="tm" x="212" y="830.2">1</text>
<text class="te" x="205" y="861.2">セーハイ</text><text class="tm" x="212" y="861.2">0</text><text class="te" x="205" y="901.8">チントウ</text><text class="tm" x="212" y="901.8">5</text>
<text class="te" x="205" y="912.3">カンクウダイ</text><text class="tm" x="212" y="912.3">5</text><text class="te" x="205" y="942.8">セイエンチン</text><text class="tm" x="212" y="942.8">0</text>
<text class="te" x="205" y="963.5">セーハイ</text><text class="tm" x="212" y="963.5">4</text><text class="te" x="205" y="1004.2">セーハイ</text><text class="tm" x="212" y="1004.2">1</text>
<!-- left R3 -->
<text class="te" x="254" y="102.4">エンピ</text><text class="tm" x="247" y="108.9">4</text><text class="tm" x="247" y="175.2">1</text><text class="te" x="254" y="181.7">エンピ</text>
<text class="te" x="254" y="204.7">エンピ</text><text class="tm" x="247" y="211.2">0</text><text class="tm" x="247" y="292.9">5</text><text class="te" x="254" y="299.4">クーシャンクー</text>
<text class="te" x="254" y="327.5">ニーハイポ</text><text class="tm" x="247" y="334">4</text><text class="tm" x="247" y="415.7">1</text><text class="te" x="254" y="422.2">クルルンファ</text>
<text class="te" x="254" y="450.4">ニーハイポ</text><text class="tm" x="247" y="456.9">4</text><text class="tm" x="247" y="538.5">1</text><text class="te" x="254" y="545">エンピ</text>
<text class="te" x="254" y="573.2">ニーハイポ</text><text class="tm" x="247" y="579.7">2</text><text class="tm" x="247" y="646">3</text><text class="te" x="254" y="652.5">クルルンファ</text>
<text class="te" x="254" y="675.5">クーシャンクー</text><text class="tm" x="247" y="682">2</text><text class="tm" x="247" y="763.7">3</text><text class="te" x="254" y="770.2">クルルンファ</text>
<text class="te" x="254" y="798.4">クルルンファ</text><text class="tm" x="247" y="804.9">0</text><text class="tm" x="247" y="886.5">5</text><text class="te" x="254" y="893">クーシャンクー</text>
<text class="te" x="254" y="916">カンクウショウ</text><text class="tm" x="247" y="922.6">0</text><text class="tm" x="247" y="988.8">5</text><text class="te" x="254" y="995.3">クルルンファ</text>
<!-- left R4 -->
<text class="te" x="286" y="130.5">エンピ</text><text class="tm" x="279" y="137">4</text><text class="tm" x="279" y="257">1</text><text class="te" x="286" y="263.5">クーシャンクー</text>
<text class="te" x="286" y="363.4">ニーハイポ</text><text class="tm" x="279" y="369.9">1</text><text class="tm" x="279" y="502.7">4</text><text class="te" x="286" y="509.2">ニーハイポ</text>
<text class="te" x="286" y="601.3">クルルンファ</text><text class="tm" x="279" y="607.8">0</text><text class="tm" x="279" y="727.8">5</text><text class="te" x="286" y="734.3">クルルンファ</text>
<text class="te" x="286" y="834.2">クーシャンクー</text><text class="tm" x="279" y="840.7">5</text><text class="tm" x="279" y="960.7">0</text><text class="te" x="286" y="967.2">クルルンファ</text>
<!-- left R5 / semi / final -->
<text class="te" x="320" y="185.5">ウンスー</text><text class="tm" x="312" y="192">5</text><text class="tm" x="312" y="441.3">0</text><text class="te" x="320" y="447.8">スーパーリンペイ</text>
<text class="te" x="320" y="656.3">スーパーリンペイ</text><text class="tm" x="312" y="662.8">1</text><text class="tm" x="312" y="905.7">4</text><text class="te" x="320" y="912.2">パープーレン</text>
<text class="te" x="352" y="305.2">ウンスー</text><text class="tm" x="345" y="311.7">4</text><text class="tm" x="345" y="789.3">1</text><text class="te" x="353" y="795.8">アーナン</text>
<text class="te" x="358" y="533">ウンスー</text><text class="tm" x="355.5" y="543">5</text><text class="ts" x="365" y="533">ワンシュー</text><text class="tm" x="367" y="543">0</text>

<!-- right R1 -->
<text class="tm" x="543" y="114">3</text><text class="te" x="576" y="114">セーバイ</text><text class="tm" x="543" y="144.4">5</text><text class="te" x="576" y="144.4">バッサイダイ</text>
<text class="tm" x="543" y="216.3">4</text><text class="te" x="576" y="216.3">バッサイダイ</text><text class="tm" x="543" y="246.8">0</text><text class="te" x="576" y="246.8">ジオン</text>
<text class="tm" x="543" y="257.3">4</text><text class="te" x="576" y="257.3">バッサイダイ</text><text class="tm" x="543" y="287.7">1</text><text class="te" x="576" y="287.7">カンクウダイ</text>
<text class="tm" x="543" y="339.1">5</text><text class="te" x="576" y="339.1">セーバイ</text><text class="tm" x="543" y="369.6">0</text><text class="te" x="576" y="369.6">ジオン</text>
<text class="tm" x="543" y="380.1">0</text><text class="te" x="576" y="380.1">ジオン</text><text class="tm" x="543" y="410.6">5</text><text class="te" x="576" y="410.6">バッサイダイ</text>
<text class="tm" x="543" y="482.4">1</text><text class="te" x="576" y="482.4">バッサイダイ</text><text class="tm" x="543" y="512.9">4</text><text class="te" x="576" y="512.9">カンクウダイ</text>
<text class="tm" x="543" y="564.3">5</text><text class="te" x="576" y="564.3">セーバイ</text><text class="tm" x="543" y="594.8">0</text><text class="te" x="576" y="594.8">ジオン</text>
<text class="tm" x="543" y="605.3">4</text><text class="te" x="576" y="605.3">カンクウダイ</text><text class="tm" x="543" y="635.7">1</text><text class="te" x="576" y="635.7">バッサイダイ</text>
<text class="tm" x="543" y="687.1">4</text><text class="te" x="576" y="687.1">カンクウダイ</text><text class="tm" x="543" y="717.6">1</text><text class="te" x="576" y="717.6">セイエンチン</text>
<text class="tm" x="543" y="728.1">4</text><text class="te" x="576" y="728.1">カンクウダイ</text><text class="tm" x="543" y="758.5">1</text><text class="te" x="576" y="758.5">セイエンチン</text>
<text class="tm" x="543" y="810">1</text><text class="te" x="576" y="810">バッサイダイ</text><text class="tm" x="543" y="840.4">5</text><text class="te" x="576" y="840.4">セーバイ</text>
<text class="tm" x="543" y="850.9">1</text><text class="te" x="576" y="850.9">ジオン</text><text class="tm" x="543" y="881.4">4</text><text class="te" x="576" y="881.4">チントウ</text>
<text class="tm" x="543" y="953.2">0</text><text class="te" x="576" y="953.2">チントウ</text><text class="tm" x="543" y="983.7">4</text><text class="te" x="576" y="983.7">カンクウダイ</text>
<!-- right R2 -->
<text class="tm" x="511" y="93.5">0</text><text class="te" x="576" y="93.5">セーバイ</text><text class="tm" x="511" y="134.2">5</text><text class="ts" x="519" y="134.2">バッサイダイ</text>
<text class="tm" x="511" y="154.9">0</text><text class="te" x="576" y="154.9">セーバイ</text><text class="tm" x="511" y="185.4">5</text><text class="te" x="576" y="185.4">セイエンチン</text>
<text class="tm" x="511" y="195.9">0</text><text class="te" x="576" y="195.9">バッサイダイ</text><text class="tm" x="511" y="236.6">5</text><text class="ts" x="519" y="236.6">バッサイダイ</text>
<text class="tm" x="511" y="267.5">5</text><text class="ts" x="519" y="267.5">バッサイダイ</text><text class="tm" x="511" y="308.2">0</text><text class="te" x="576" y="308.2">バッサイダイ</text>
<text class="tm" x="511" y="318.7">3</text><text class="te" x="576" y="318.7">カンクウダイ</text><text class="tm" x="511" y="359.4">3</text><text class="ts" x="519" y="359.4">セーバイ</text>
<text class="tm" x="511" y="390.4">5</text><text class="ts" x="519" y="390.4">バッサイダイ</text><text class="tm" x="511" y="431">0</text><text class="te" x="576" y="431">カンクウダイ</text>
<text class="tm" x="511" y="441.5">5</text><text class="te" x="576" y="441.5">バッサイダイ</text><text class="tm" x="511" y="472">0</text><text class="te" x="576" y="472">ジオン</text>
<text class="tm" x="511" y="492.7">5</text><text class="ts" x="519" y="492.7">カンクウダイ</text><text class="tm" x="511" y="533.4">0</text><text class="te" x="576" y="533.4">バッサイダイ</text>
<text class="tm" x="511" y="543.8">0</text><text class="te" x="576" y="543.8">セイエンチン</text><text class="tm" x="511" y="584.6">5</text><text class="ts" x="519" y="584.6">セーバイ</text>
<text class="tm" x="511" y="615.5">3</text><text class="ts" x="519" y="615.5">カンクウダイ</text><text class="tm" x="511" y="656.2">2</text><text class="te" x="576" y="656.2">セイエンチン</text>
<text class="tm" x="511" y="666.7">0</text><text class="te" x="576" y="666.7">カンクウダイ</text><text class="tm" x="511" y="707.4">5</text><text class="ts" x="519" y="707.4">カンクウダイ</text>
<text class="tm" x="511" y="738.3">2</text><text class="ts" x="519" y="738.3">カンクウダイ</text><text class="tm" x="511" y="779">3</text><text class="te" x="576" y="779">ジオン</text>
<text class="tm" x="511" y="789.5">5</text><text class="te" x="576" y="789.5">セーバイ</text><text class="tm" x="511" y="830.2">0</text><text class="ts" x="519" y="830.2">セーバイ</text>
<text class="tm" x="511" y="861.2">5</text><text class="ts" x="519" y="861.2">チントウ</text><text class="tm" x="511" y="901.8">0</text><text class="te" x="576" y="901.8">ジオン</text>
<text class="tm" x="511" y="912.3">0</text><text class="te" x="576" y="912.3">バッサイダイ</text><text class="tm" x="511" y="942.8">5</text><text class="te" x="576" y="942.8">セーバイ</text>
<text class="tm" x="511" y="963.5">1</text><text class="ts" x="519" y="963.5">カンクウダイ</text><text class="tm" x="511" y="1004.2">4</text><text class="te" x="576" y="1004.2">チントウ</text>
<!-- right R3 -->
<text class="ts" x="470" y="102.4">ニーハイポ</text><text class="tm" x="476" y="108.9">1</text><text class="tm" x="476" y="175.2">4</text><text class="ts" x="470" y="181.7">ニーハイポ</text>
<text class="ts" x="470" y="204.7">ニーハイポ</text><text class="tm" x="476" y="211.2">1</text><text class="tm" x="476" y="292.9">4</text><text class="ts" x="470" y="299.4">ニーハイポ</text>
<text class="ts" x="470" y="327.5">クルルンファ</text><text class="tm" x="476" y="334">2</text><text class="tm" x="476" y="415.7">3</text><text class="ts" x="470" y="422.2">ニーハイポ</text>
<text class="ts" x="470" y="445.3">ニーハイポ</text><text class="tm" x="476" y="451.8">4</text><text class="tm" x="476" y="518">1</text><text class="ts" x="470" y="524.5">エンピ</text>
<text class="ts" x="470" y="552.7">クルルンファ</text><text class="tm" x="476" y="559.2">4</text><text class="tm" x="476" y="640.9">1</text><text class="ts" x="470" y="647.4">エンピ</text>
<text class="ts" x="470" y="675.5">エンピ</text><text class="tm" x="476" y="682">5</text><text class="tm" x="476" y="763.7">0</text><text class="ts" x="470" y="770.2">エンピ</text>
<text class="ts" x="470" y="798.4">クルルンファ</text><text class="tm" x="476" y="804.9">4</text><text class="tm" x="476" y="886.5">1</text><text class="ts" x="470" y="893">クーシャンクー</text>
<text class="ts" x="470" y="916">クルルンファ</text><text class="tm" x="476" y="922.6">1</text><text class="tm" x="476" y="988.8">4</text><text class="ts" x="470" y="995.3">クーシャンクー</text>
<!-- right R4 -->
<text class="ts" x="438" y="130.5">ニーハイポ</text><text class="tm" x="444" y="137">4</text><text class="tm" x="444" y="257">1</text><text class="ts" x="438" y="263.5">ニーハイポ</text>
<text class="ts" x="438" y="363.4">ニーハイポ</text><text class="tm" x="444" y="369.9">3</text><text class="tm" x="444" y="489.9">2</text><text class="ts" x="438" y="496.4">ニーハイポ</text>
<text class="ts" x="438" y="588.5">クルルンファ</text><text class="tm" x="444" y="595">5</text><text class="tm" x="444" y="727.8">2</text><text class="ts" x="438" y="734.3">エンピ</text>
<text class="ts" x="438" y="834.2">クルルンファ</text><text class="tm" x="444" y="840.7">1</text><text class="tm" x="444" y="960.7">4</text><text class="ts" x="438" y="967.2">クーシャンクー</text>
<!-- right R5 / semi -->
<text class="ts" x="404" y="185.5">パープーレン</text><text class="tm" x="411" y="192">5</text><text class="tm" x="411" y="434.9">0</text><text class="ts" x="404" y="441.4">パープーレン</text>
<text class="ts" x="404" y="649.9">パープーレン</text><text class="tm" x="411" y="656.4">2</text><text class="tm" x="411" y="905.7">3</text><text class="ts" x="404" y="912.2">ワンシュー</text>
<text class="ts" x="371" y="302">パープーレン</text><text class="tm" x="378" y="308.5">1</text><text class="tm" x="378" y="786">4</text><text class="ts" x="371" y="792.5">ワンシュー</text>
</svg>
</body></html>
